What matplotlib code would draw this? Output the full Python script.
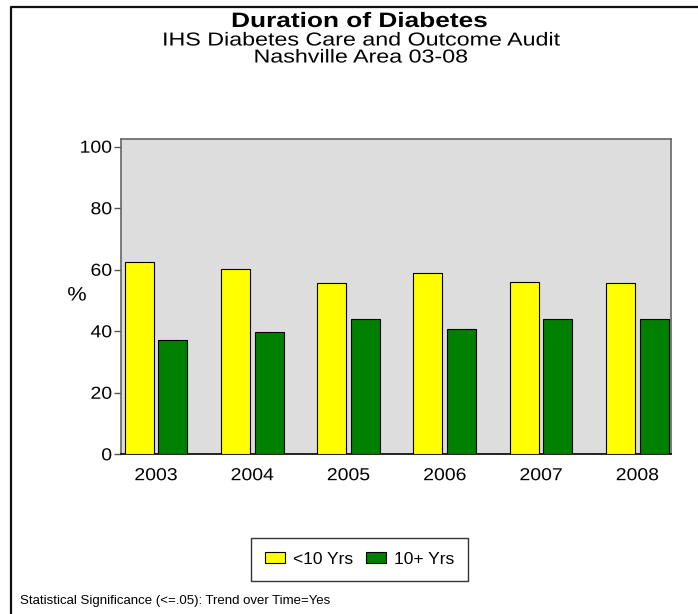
import matplotlib
matplotlib.use("Agg")
import matplotlib.pyplot as plt
import numpy as np
from matplotlib.lines import Line2D
from matplotlib.patheffects import AbstractPathEffect
from matplotlib.transforms import Affine2D

plt.rcParams['font.family'] = ['Liberation Sans', 'DejaVu Sans']

years = ["2003", "2004", "2005", "2006", "2007", "2008"]
under_10 = [62.6, 60.3, 55.8, 59.1, 56.0, 55.8]
over_10 = [37.1, 39.6, 44.1, 40.7, 43.9, 44.1]
series_labels = ["<10 Yrs", "10+ Yrs"]
yticks = [0, 20, 40, 60, 80, 100]


class WideText(AbstractPathEffect):
    """Draw glyphs widened horizontally by `sx` about a chosen anchor."""

    def __init__(self, sx, anchor="center"):
        super().__init__()
        self.sx = sx
        self.anchor = anchor

    def draw_path(self, renderer, gc, tpath, affine, rgbFace=None):
        ext = tpath.get_extents(affine)
        if self.anchor == "left":
            x0 = ext.x0
        elif self.anchor == "right":
            x0 = ext.x1
        else:
            x0 = 0.5 * (ext.x0 + ext.x1)
        widen = Affine2D().translate(-x0, 0).scale(self.sx, 1.0).translate(x0, 0)
        renderer.draw_path(gc, tpath, affine + widen, rgbFace)


W, H = 698, 614
fig = plt.figure(figsize=(W / 100, H / 100), dpi=100)

ax = fig.add_axes([121 / W, 1 - 454.3 / H, 550 / W, 315.3 / H])
ax.set_facecolor("#DDDDDD")

x = np.arange(len(years))
bw = 0.30
off = 0.175
ax.bar(x - off, under_10, width=bw, color="#FFFF00", edgecolor="#000000",
       linewidth=0.8, label=series_labels[0], zorder=3)
ax.bar(x + off, over_10, width=bw, color="#008000", edgecolor="#000000",
       linewidth=0.8, label=series_labels[1], zorder=3)

ax.set_xlim(-0.363, 5.35)
ax.set_ylim(0, 102.5)
ax.set_xticks(x)
ax.set_xticklabels(years, fontsize=12.5)
ax.set_yticks(yticks)
ax.set_yticklabels([str(v) for v in yticks], fontsize=12.5)
ax.tick_params(axis="x", length=0, pad=10)
ax.tick_params(axis="y", length=5, width=1, pad=1.5, color="#555555", direction="out")
for lbl in ax.get_xticklabels():
    lbl.set_path_effects([WideText(1.12, "center")])
for lbl in ax.get_yticklabels():
    lbl.set_path_effects([WideText(1.12, "right")])

for side in ("left", "top", "right"):
    ax.spines[side].set_color("#666666")
    ax.spines[side].set_linewidth(1.2)
ax.spines["bottom"].set_color("#000000")
ax.spines["bottom"].set_linewidth(1.2)

fig.text(77 / W, 1 - 296 / H, "%", fontsize=14, ha="center", va="center",
         path_effects=[WideText(1.12, "center")])

fig.text(360 / W, 1 - 27 / H, "Duration of Diabetes", fontsize=15,
         fontweight="bold", ha="center", va="baseline",
         path_effects=[WideText(1.26, "center")])
fig.text(361 / W, 1 - 45.5 / H, "IHS Diabetes Care and Outcome Audit",
         fontsize=13.5, ha="center", va="baseline",
         path_effects=[WideText(1.24, "center")])
fig.text(361 / W, 1 - 62.5 / H, "Nashville Area 03-08",
         fontsize=13.5, ha="center", va="baseline",
         path_effects=[WideText(1.24, "center")])

leg = fig.legend(loc="center", bbox_to_anchor=(359.7 / W, 1 - 559.5 / H),
                 ncol=2, fontsize=12.5, frameon=True, fancybox=False,
                 edgecolor="#000000", handlelength=1.15, handleheight=0.6,
                 handletextpad=0.5, columnspacing=0.7, borderpad=0.8,
                 borderaxespad=0)
leg.get_frame().set_linewidth(1.0)

fig.text(20 / W, 1 - 601 / H, "Statistical Significance (<=.05): Trend over Time=Yes",
         fontsize=9.5, ha="left", va="center")

fig.add_artist(Line2D([11 / W, 11 / W, 1.0], [0.0, 1 - 7 / H, 1 - 7 / H],
                      transform=fig.transFigure, color="#111111", linewidth=1.6))

fig.savefig("out.png", dpi=100)
